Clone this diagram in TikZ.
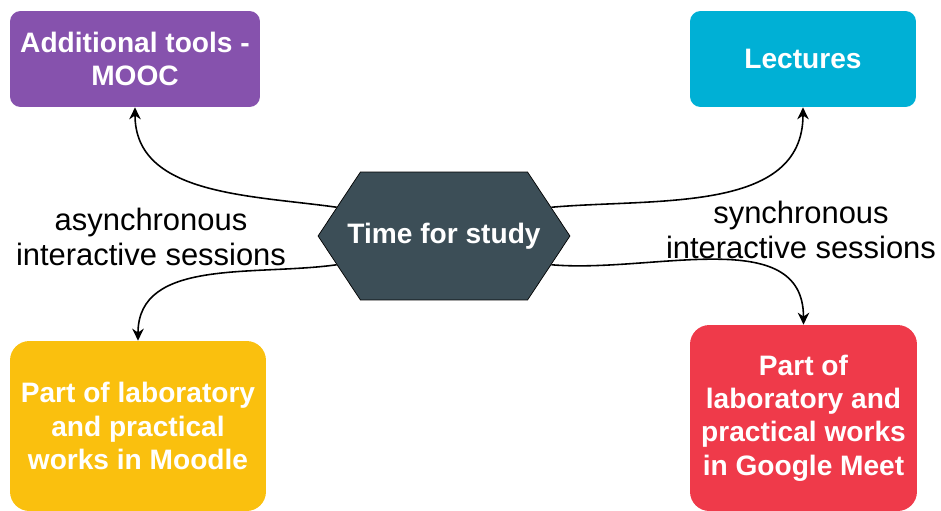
\documentclass[tikz,border=0pt]{standalone}
\usepackage{fontspec}
\setmainfont{Liberation Sans}
\usetikzlibrary{shapes.symbols}
\usetikzlibrary{arrows.meta}
\definecolor{moocpurple}{HTML}{8652AD}
\definecolor{lecturecyan}{HTML}{00B0D5}
\definecolor{moodleyellow}{HTML}{FAC00E}
\definecolor{meetred}{HTML}{EF3A4A}
\definecolor{studyslate}{HTML}{3C4E57}
\tikzset{
	box/.style={align=center, text=white, inner sep=0pt, font=\fontsize{16}{19}\selectfont\bfseries}
}
\tikzset{
	link/.style={-{Stealth[length=2.4mm,width=2.3mm]}, line width=0.9pt}
}
\tikzset{
	lbl/.style={align=center, font=\fontsize{17.6}{19.8}\selectfont}
}

\begin{document}
\begin{tikzpicture}[x=0.02cm,y=-0.02cm]
	\useasboundingbox (0,0) rectangle (941,511);
	% centre
	\node[box, shape=signal, signal to=west and east, signal pointer angle=113, inner xsep=-7.4pt, draw=black, fill=studyslate, minimum height=2.56cm] (study) at (444,236) {Time for study};
	% four kinds of work
	\node[box, fill=moocpurple, rounded corners=6pt, minimum width=5cm, minimum height=1.92cm] (mooc) at (135,59) {Additional tools -\\MOOC};
	\node[box, fill=lecturecyan, rounded corners=6pt, minimum width=4.52cm, minimum height=1.92cm] (lectures) at (803,59) {Lectures};
	\node[box, fill=moodleyellow, rounded corners=11pt, minimum width=5.12cm, minimum height=3.4cm] (moodle) at (138,426) {Part of laboratory\\and practical\\works in Moodle};
	\node[box, fill=meetred, rounded corners=11pt, minimum width=4.54cm, minimum height=3.72cm] (meet) at (803.5,418) {Part of\\laboratory and\\practical works\\in Google Meet};
	\node[lbl] (asyncLbl) at (151,237) {asynchronous\\interactive sessions};
	\node[lbl] (syncLbl) at (801,230) {synchronous\\interactive sessions};
	\draw[link] (study.165) to[out=172, in=-90] (mooc.south);
	\draw[link] (study.15) to[out=5, in=-90] (lectures.south);
	\draw[link] (study.195) to[out=188, in=90] (moodle.north);
	\draw[link] (study.345) to[out=-5, in=90] (meet.north);
\end{tikzpicture}
\end{document}
